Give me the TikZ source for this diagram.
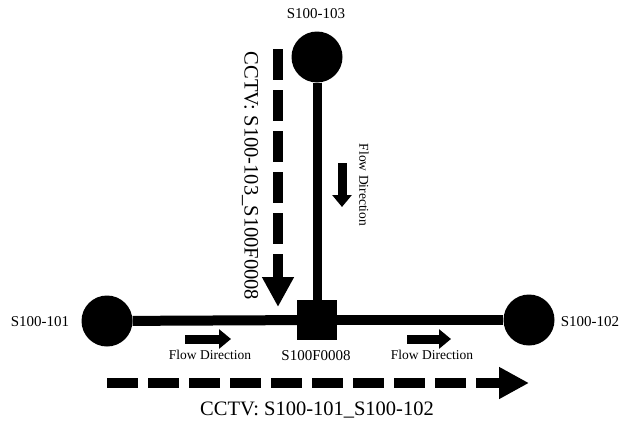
\documentclass[tikz,border=0pt]{standalone}
\usepackage{fontspec}
\setmainfont{Liberation Serif}
\usetikzlibrary{arrows.meta}

\begin{document}
\begin{tikzpicture}[x=1pt,y=-1pt,
	manhole/.style={circle,fill,minimum size=51pt,inner sep=0pt},
	junction/.style={fill,minimum size=40pt,inner sep=0pt},
	pipe/.style={line width=10pt},
	flow/.style={line width=9pt,-{Triangle[length=12pt,width=19pt]}},
	cctv/.style={line width=10pt,dash pattern=on 31pt off 10pt,-{Triangle[length=30pt,width=30pt]}},
	lbl/.style={font=\fontsize{15}{18}\selectfont},
	flowlbl/.style={font=\fontsize{13.5}{16}\selectfont},
	cctvlbl/.style={font=\fontsize{20.5}{24}\selectfont}]
	\useasboundingbox (0,0) rectangle (621,423);

	\node[manhole] (s101) at (107,321) {};
	\node[manhole] (s102) at (529,320) {};
	\node[manhole] (s103) at (317,57) {};
	\node[junction] (jn) at (317,320) {};
	\draw[pipe] (s101) -- (jn);
	\draw[pipe] (jn) -- (s102);
	\draw[pipe,line width=9pt] (s103) -- (jn);

	\node[lbl] (l101) at (40,322) {S100-101};
	\node[lbl] (l102) at (590,322) {S100-102};
	\node[lbl] (l103) at (316,14) {S100-103};
	\node[lbl] (ljn) at (316,356) {S100F0008};

	% flow arrows
	\coordinate (fa1) at (185,339);
	\coordinate (fb1) at (231,339);
	\draw[flow] (fa1) -- (fb1);
	\node[flowlbl] (fl1) at (210,355) {Flow Direction};
	\coordinate (fa2) at (407,339);
	\coordinate (fb2) at (451,339);
	\draw[flow] (fa2) -- (fb2);
	\node[flowlbl] (fl2) at (432,355) {Flow Direction};
	\coordinate (fa3) at (342,163);
	\coordinate (fb3) at (342,207);
	\draw[flow] (fa3) -- (fb3);
	\node[flowlbl,rotate=-90] (fl3) at (364,185) {Flow Direction};

	% cctv runs
	\coordinate (ca1) at (107,383);
	\coordinate (cb1) at (529,383);
	\draw[cctv] (ca1) -- (cb1);
	\node[cctvlbl] (cl1) at (317,410) {CCTV: S100-101\_S100-102};
	\coordinate (ca2) at (278,49);
	\coordinate (cb2) at (278,307);
	\draw[cctv] (ca2) -- (cb2);
	\node[cctvlbl,rotate=-90] (cl2) at (250,176) {CCTV: S100-103\_S100F0008};
\end{tikzpicture}
\end{document}
